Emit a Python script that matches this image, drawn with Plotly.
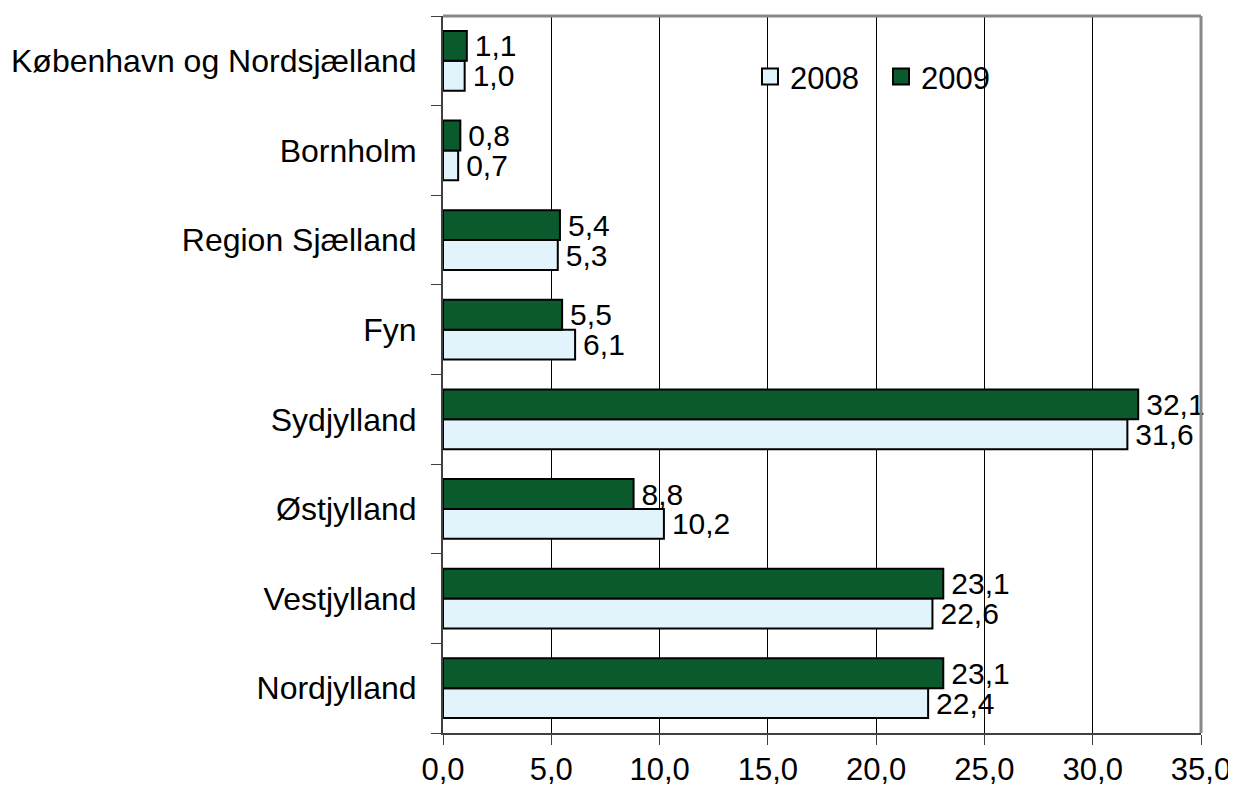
import plotly.graph_objects as go

regions = ["Nordjylland", "Vestjylland", "Østjylland", "Sydjylland", "Fyn",
           "Region Sjælland", "Bornholm", "København og Nordsjælland"]
v2008 = [22.4, 22.6, 10.2, 31.6, 6.1, 5.3, 0.7, 1.0]
v2009 = [23.1, 23.1, 8.8, 32.1, 5.5, 5.4, 0.8, 1.1]
xticks = [0, 5, 10, 15, 20, 25, 30, 35]

light = "#E1F4FC"
dark = "#0B5A2E"

def lab(vals):
    # small space pushes label a bit away from bar end, decimal comma
    return ["\u2006" + f"{v:.1f}".replace(".", ",") for v in vals]

fam = "Liberation Sans, Arial, sans-serif"
font = dict(family=fam, size=32, color="black")
lblfont = dict(family=fam, size=30, color="black")

fig = go.Figure()
fig.add_trace(go.Bar(y=regions, x=v2008, name="2008", orientation="h",
                     marker=dict(color=light, line=dict(color="black", width=2)),
                     text=lab(v2008), textposition="outside", constraintext="none",
                     cliponaxis=False, textfont=lblfont, showlegend=False))
fig.add_trace(go.Bar(y=regions, x=v2009, name="2009", orientation="h",
                     marker=dict(color=dark, line=dict(color="black", width=2)),
                     text=lab(v2009), textposition="outside", constraintext="none",
                     cliponaxis=False, textfont=lblfont, showlegend=False))

# legend entries with bigger square swatches
for name, col in [("2008", light), ("2009", dark)]:
    fig.add_trace(go.Scatter(x=[None], y=[None], mode="markers", name=name,
                             marker=dict(symbol="square", size=20, color=col,
                                         line=dict(color="black", width=2))))

fig.update_layout(
    width=1228, height=786,
    margin=dict(l=435, r=35, t=8, b=61),
    plot_bgcolor="white", paper_bgcolor="white",
    font=font,
    separators=",.",
    barmode="group", bargap=1/3, bargroupgap=0,
    legend=dict(orientation="h", x=0.405, y=0.915, xanchor="left", yanchor="middle",
                bgcolor="rgba(0,0,0,0)", font=dict(family=fam, size=31, color="black"),
                traceorder="normal", entrywidth=86, itemwidth=30),
    xaxis=dict(range=[0, 35], tickvals=xticks, tickformat=".1f",
               tickfont=dict(family=fam, size=31, color="black"),
               showgrid=True, gridcolor="black", gridwidth=1,
               showline=True, linecolor="#404040", linewidth=2,
               ticks="outside", ticklen=10, tickcolor="#404040",
               ticklabelstandoff=-2, zeroline=False, fixedrange=True,
               automargin=False),
    yaxis=dict(type="category", showline=True, linecolor="#404040", linewidth=2,
               ticks="outside", ticklen=10, tickcolor="#404040",
               tickson="boundaries", ticklabelstandoff=18,
               showgrid=False, fixedrange=True, automargin=False),
    shapes=[
        dict(type="line", xref="paper", yref="paper", x0=0, x1=1, y0=1, y1=1,
             line=dict(color="#888888", width=3)),
        dict(type="line", xref="paper", yref="paper", x0=1, x1=1, y0=0, y1=1,
             line=dict(color="#888888", width=3)),
    ],
)

fig.write_html("out.html")
